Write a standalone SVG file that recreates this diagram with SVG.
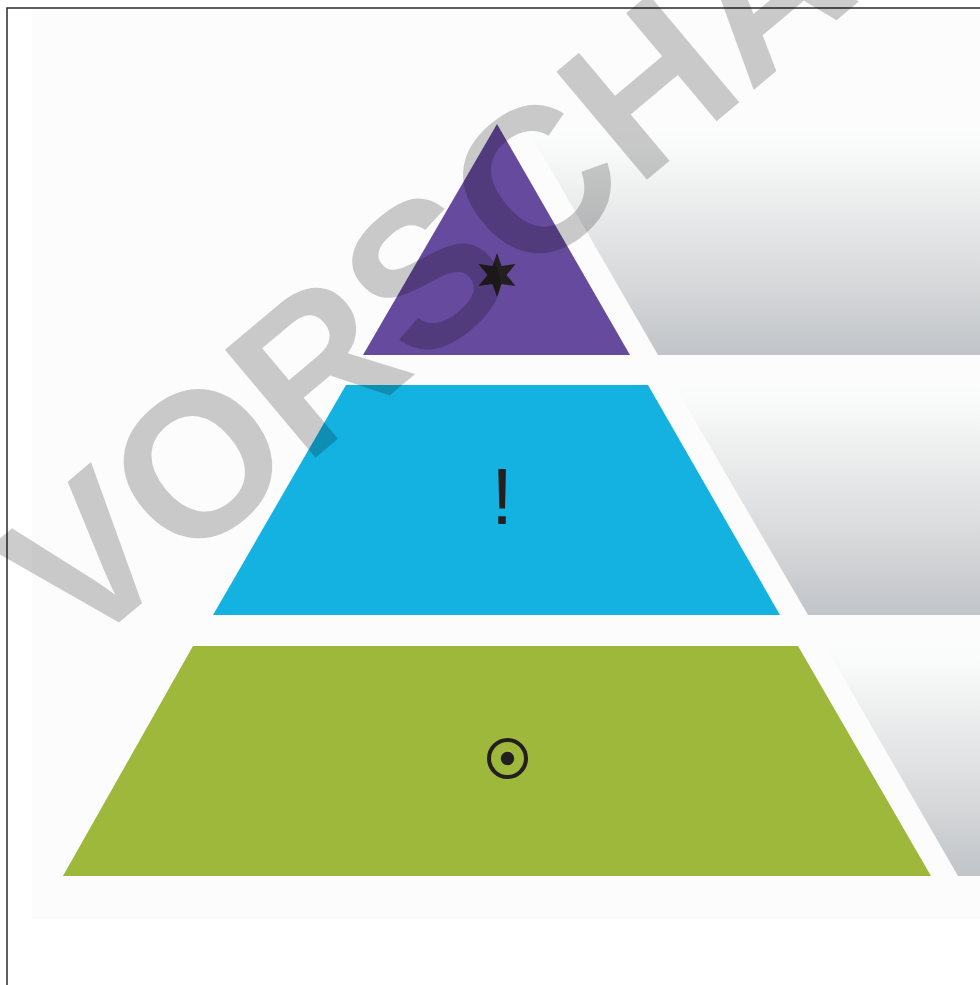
<svg xmlns="http://www.w3.org/2000/svg" width="980" height="985" viewBox="0 0 980 985">
<defs>
<linearGradient id="g1" x1="0" y1="0" x2="0" y2="1">
<stop offset="0" stop-color="#fcfcfc"/>
<stop offset="0.08" stop-color="#f9fafa"/>
<stop offset="0.3" stop-color="#eceeee"/>
<stop offset="0.7" stop-color="#d5d7d9"/>
<stop offset="1" stop-color="#c1c4c8"/>
</linearGradient>
<style>
.ico{fill:#231f20}
.wm{font-family:"Liberation Sans",Arial,sans-serif;font-weight:bold;font-size:205px;fill:#000;fill-opacity:0.2}
.band{fill:url(#g1)}
</style>
</defs>
<rect x="0" y="0" width="980" height="985" fill="#ffffff"/>
<rect x="32" y="9" width="948" height="910" fill="#fcfcfc"/>
<rect x="7" y="8" width="1000" height="1000" fill="none" stroke="#2a2a2a" stroke-width="1.5"/>
<g id="bands">
<polygon class="band" points="528,130 980,130 980,355 658,355"/>
<polygon class="band" points="673,383 980,383 980,615 808,615"/>
<polygon class="band" points="824,644 980,644 980,876 958,876"/>
</g>
<g id="level-top">
<polygon points="497,124 630,355 363,355" fill="#664a9d"/>
<polygon class="ico" points="497,253 501.5,266 515.5,264 506.5,275 515.5,286 501.5,284 497,297 492.5,284 478.5,286 487.5,275 478.5,264 492.5,266"/>
</g>
<g id="level-middle">
<polygon points="346,385 648,385 780,615 213,615" fill="#13b2e0"/>
<text x="502" y="524" text-anchor="middle" font-family="Liberation Sans, Arial, sans-serif" font-size="80" fill="#231f20">!</text>
</g>
<g id="level-bottom">
<polygon points="193,646 798,646 931,876 63,876" fill="#9db83a"/>
<circle cx="507.5" cy="758.5" r="18.5" fill="none" stroke="#231f20" stroke-width="4"/>
<circle class="ico" cx="507.5" cy="758.5" r="6.7"/>
</g>
<g id="connectors"/>
<text class="wm" transform="translate(78,657) rotate(-40)">VORSCHAU</text>
</svg>
